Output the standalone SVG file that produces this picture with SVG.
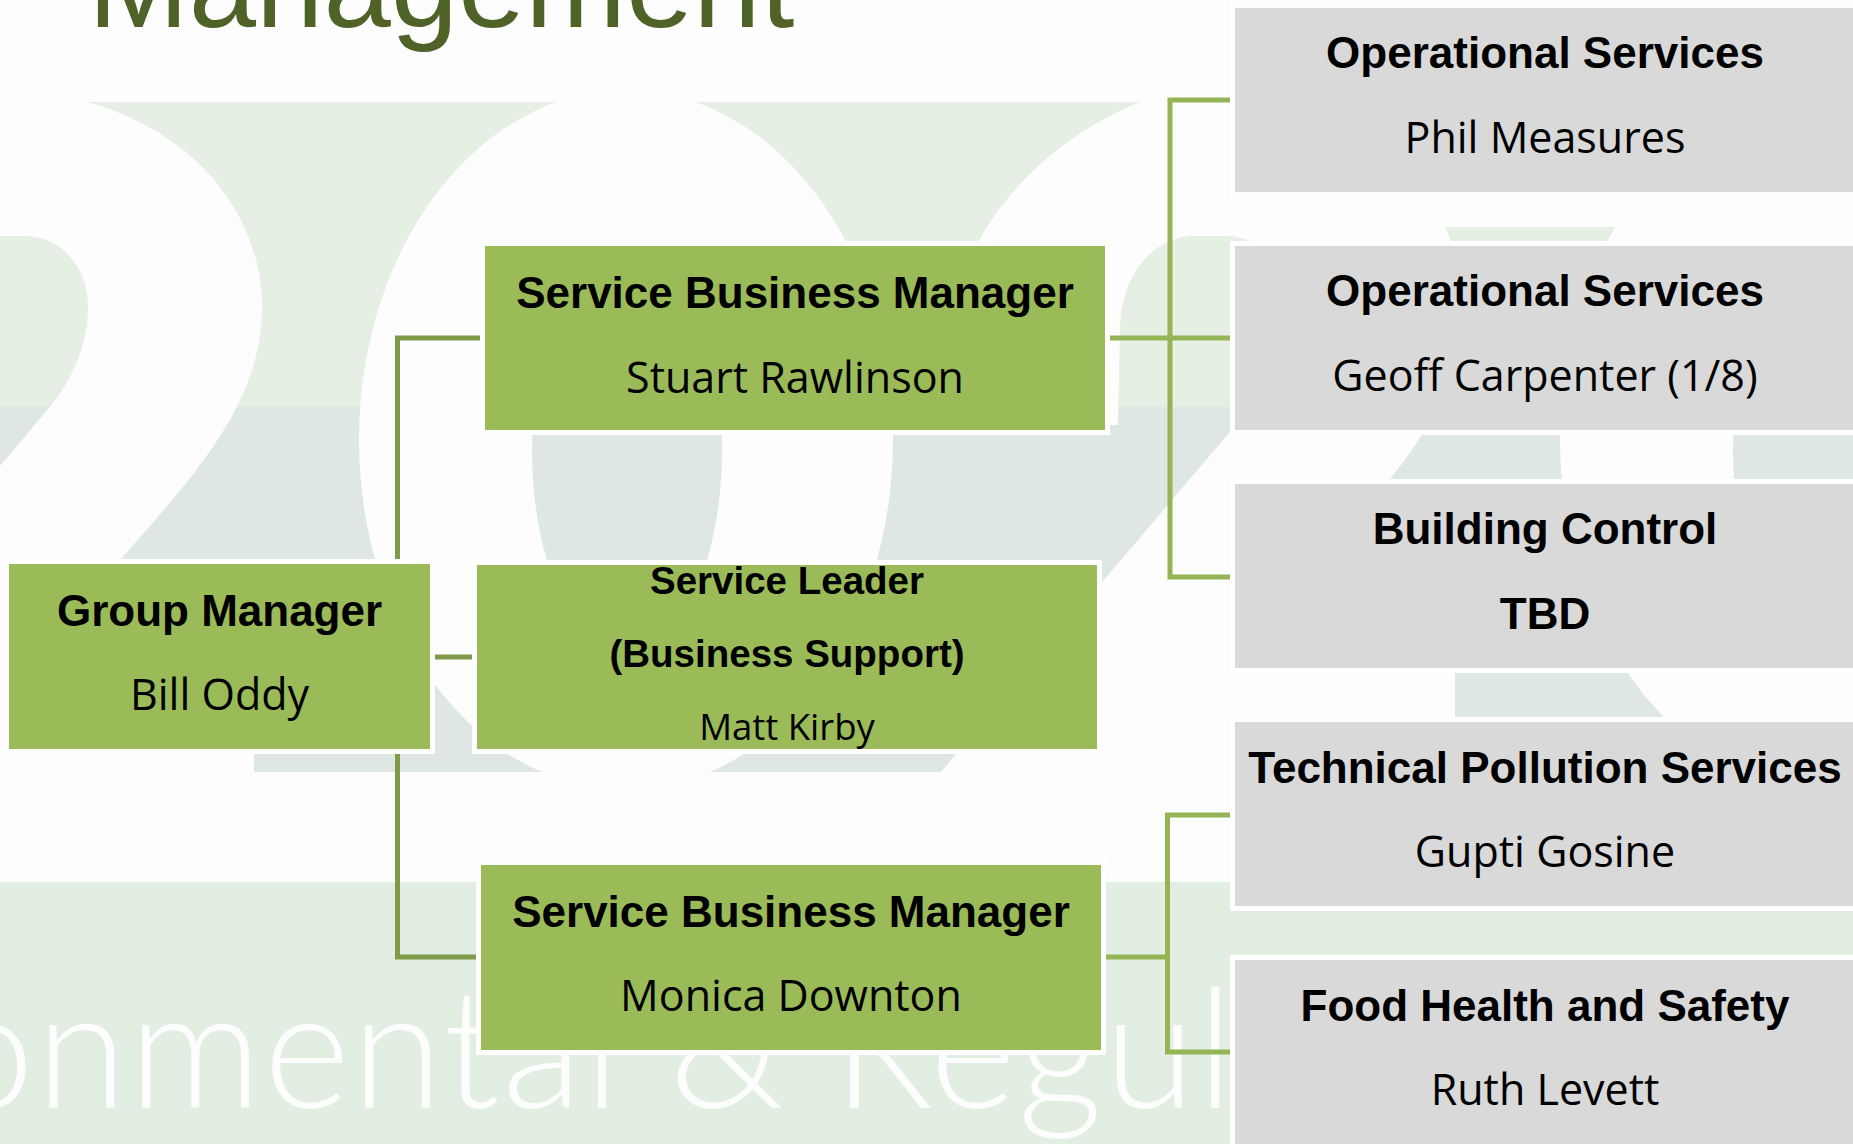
<svg xmlns="http://www.w3.org/2000/svg" width="1853" height="1144" viewBox="0 0 1853 1144">
  <defs>
    <style>
      .title{font-family:"Liberation Sans",Arial,sans-serif;font-weight:bold;font-size:44px;fill:#000;text-anchor:middle}
      .name{font-family:"Open Sans","Liberation Sans",Arial,sans-serif;font-weight:400;font-size:43px;fill:#000;text-anchor:middle}
      .small .title{font-size:38.5px}
      .small .name{font-size:36.5px}
      .lead rect{fill:#9BBB59;stroke:#FFFFFF;stroke-width:10;paint-order:stroke}
      .unit rect{fill:#D9D9D9;stroke:#FFFFFF;stroke-width:10;paint-order:stroke}
      .link-l{fill:none;stroke:#7F9A48;stroke-width:5}
      .link-r{fill:none;stroke:#94B455;stroke-width:5}
      .paper{fill:#FDFDFD}
      .tint{fill:#E5EFE4}
      .shade{fill:#DEE7E3}
    </style>
    <clipPath id="upperBand">
      <rect x="-2000" y="0" width="6000" height="407"/>
    </clipPath>
    <!-- large watermark numerals of the banner -->
    <path id="two" class="paper" d="M -256,425 L -243,300 C -232,228 -160,140 -56,100 L -56,80 L 87,80 L 87,102 C 190,130 262,210 262,307 C 262,400 200,470 120,560 L 58,640 L 254,640 L 254,800 L -284,800 L 50,407 C 72,380 88,345 88,307 C 88,268 62,236 25,236 L -11,236 C -50,240 -80,275 -81,330 L -83,425 Z"/>
    <g id="zero">
      <ellipse class="paper" cx="626" cy="440" rx="267" ry="350"/>
      <ellipse class="shade" cx="627" cy="450" rx="95" ry="205"/>
      <ellipse class="tint" cx="627" cy="450" rx="95" ry="205" clip-path="url(#upperBand)"/>
    </g>
  </defs>

  <!-- backdrop -->
  <g id="backdrop">
    <rect class="paper" x="0" y="0" width="1853" height="1144"/>
    <rect class="tint" x="0" y="102" width="1853" height="305"/>
    <rect class="shade" x="0" y="407" width="1853" height="365"/>
    <use href="#two"/>
    <use href="#two" x="1201"/>
    <use href="#zero"/>
    <use href="#zero" x="1201"/>
    <rect class="paper" x="1235" y="150" width="618" height="77"/>
    <rect x="0" y="882" width="1853" height="262" fill="#E3EEE3"/>
    <text x="-58" y="1108" font-family="Lato, 'Open Sans', sans-serif" font-weight="300" font-size="165" letter-spacing="2" fill="#FDFDFD">onmental &amp; Regul</text>
    <text x="88" y="27" font-family="'Liberation Sans', Arial, sans-serif" font-size="121" fill="#4F6228">Management</text>
  </g>

  <!-- connectors -->
  <g id="connectors">
    <path class="link-l" d="M 480,338 H 397.5 V 957 H 476"/>
    <path class="link-l" d="M 435,657 H 472"/>
    <path class="link-r" d="M 1110,338 H 1230"/>
    <path class="link-r" d="M 1230,100 H 1170 V 577 H 1230"/>
    <path class="link-r" d="M 1106,957 H 1167.5"/>
    <path class="link-r" d="M 1230,815 H 1167.5 V 1052 H 1230"/>
  </g>

  <!-- management nodes -->
  <g id="group-manager" class="lead">
    <rect x="9" y="564" width="421" height="185"/>
    <text class="title" x="219.5" y="626">Group Manager</text>
    <text class="name" x="219.5" y="710">Bill Oddy</text>
  </g>
  <g id="sbm-rawlinson" class="lead">
    <rect x="485" y="246" width="620" height="184"/>
    <text class="title" x="795" y="308">Service Business Manager</text>
    <text class="name" x="795" y="393">Stuart Rawlinson</text>
  </g>
  <g id="service-leader" class="lead small">
    <rect x="477" y="565" width="620" height="184"/>
    <text class="title" x="787" y="594">Service Leader</text>
    <text class="title" x="787" y="667">(Business Support)</text>
    <text class="name" x="787" y="740">Matt Kirby</text>
  </g>
  <g id="sbm-downton" class="lead">
    <rect x="481" y="865" width="620" height="185"/>
    <text class="title" x="791" y="927">Service Business Manager</text>
    <text class="name" x="791" y="1011">Monica Downton</text>
  </g>

  <!-- service units -->
  <g id="operational-measures" class="unit">
    <rect x="1235" y="8" width="620" height="184"/>
    <text class="title" x="1545" y="68">Operational Services</text>
    <text class="name" x="1545" y="153">Phil Measures</text>
  </g>
  <g id="operational-carpenter" class="unit">
    <rect x="1235" y="246" width="620" height="184"/>
    <text class="title" x="1545" y="306">Operational Services</text>
    <text class="name" x="1545" y="391">Geoff Carpenter (1/8)</text>
  </g>
  <g id="building-control" class="unit">
    <rect x="1235" y="484" width="620" height="184"/>
    <text class="title" x="1545" y="544">Building Control</text>
    <text class="title" x="1545" y="629">TBD</text>
  </g>
  <g id="technical-pollution" class="unit">
    <rect x="1235" y="722" width="620" height="184"/>
    <text class="title" x="1545" y="783">Technical Pollution Services</text>
    <text class="name" x="1545" y="867">Gupti Gosine</text>
  </g>
  <g id="food-health-safety" class="unit">
    <rect x="1235" y="960" width="620" height="184"/>
    <text class="title" x="1545" y="1021">Food Health and Safety</text>
    <text class="name" x="1545" y="1105">Ruth Levett</text>
  </g>
</svg>
